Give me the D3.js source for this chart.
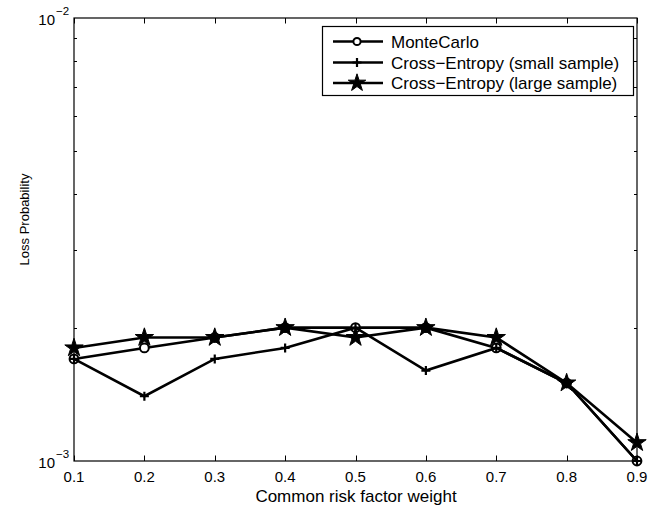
<!DOCTYPE html>
<html><head><meta charset="utf-8">
<script src="https://cdn.jsdelivr.net/npm/d3@7"></script>
<style>body{margin:0;background:#fff}svg{display:block}text{font-family:"Liberation Sans",Arial,Helvetica,sans-serif;fill:#000}</style>
</head><body>
<svg id="chart" width="652" height="512"></svg>
<script>
const xValues = [0.1, 0.2, 0.3, 0.4, 0.5, 0.6, 0.7, 0.8, 0.9];
const monteCarlo = [1.7e-3, 1.8e-3, 1.9e-3, 2.0e-3, 2.0e-3, 2.0e-3, 1.8e-3, 1.5e-3, 1.0e-3];
const ceSmall = [1.7e-3, 1.4e-3, 1.7e-3, 1.8e-3, 2.0e-3, 1.6e-3, 1.8e-3, 1.5e-3, 1.0e-3];
const ceLarge = [1.8e-3, 1.9e-3, 1.9e-3, 2.0e-3, 1.9e-3, 2.0e-3, 1.9e-3, 1.5e-3, 1.1e-3];
const seriesNames = ["MonteCarlo", "Cross\u2212Entropy (small sample)", "Cross\u2212Entropy (large sample)"];
const xTickLabels = ["0.1","0.2","0.3","0.4","0.5","0.6","0.7","0.8","0.9"];
const yDomain = [1e-3, 1e-2];
const xLabel = "Common risk factor weight";
const yLabel = "Loss Probability";

const svg = d3.select("#chart");
const L = 74, T = 18, R = 637, B = 461;
const x = d3.scaleLinear().domain([0.1, 0.9]).range([L, R]);
const y = d3.scaleLog().domain(yDomain).range([B, T]);

const g = svg.append("g");
g.append("rect").attr("x", L).attr("y", T).attr("width", R - L).attr("height", B - T)
  .attr("fill", "none").attr("stroke", "#000").attr("stroke-width", 1.2);

const majorLen = 5.5, minorLen = 3;
xValues.forEach((v, i) => {
  const px = Math.round(x(v)) + 0.5;
  g.append("line").attr("x1", px).attr("x2", px).attr("y1", B).attr("y2", B - majorLen).attr("stroke", "#000");
  g.append("line").attr("x1", px).attr("x2", px).attr("y1", T).attr("y2", T + majorLen).attr("stroke", "#000");
  g.append("text").attr("x", x(v)).attr("y", 482).attr("text-anchor", "middle").attr("font-size", 15).text(xTickLabels[i]);
});
const yTicks = [];
for (let k = 2; k <= 9; k++) yTicks.push(k * 1e-3);
yTicks.forEach(v => {
  const py = Math.round(y(v)) + 0.5;
  g.append("line").attr("x1", L).attr("x2", L + minorLen).attr("y1", py).attr("y2", py).attr("stroke", "#000");
  g.append("line").attr("x1", R).attr("x2", R - minorLen).attr("y1", py).attr("y2", py).attr("stroke", "#000");
});
[[1e-2, "\u22122"], [1e-3, "\u22123"]].forEach(([v, e]) => {
  g.append("text").attr("x", 55).attr("y", y(v) + 7).attr("text-anchor", "end").attr("font-size", 15).text("10");
  g.append("text").attr("x", 56).attr("y", y(v) - 3).attr("font-size", 11.5).text(e);
});

g.append("text").attr("x", (L + R) / 2 + 0.5).attr("y", 502).attr("text-anchor", "middle").attr("font-size", 17).text(xLabel);
g.append("text").attr("transform", `translate(29,${(T + B) / 2 - 20}) rotate(-90)`).attr("text-anchor", "middle").attr("font-size", 13).text(yLabel);

const line = d3.line().x((d, i) => x(xValues[i])).y(d => y(d));
const star = d3.symbol().type(d3.symbolStar).size(105);
const starSmall = d3.symbol().type(d3.symbolStar).size(95);
const plusPath = "M-4.5,0H4.5M0,-4.5V4.5";

function drawMarker(sel, type, cx, cy, legend) {
  if (type === "circle") {
    sel.append("circle").attr("cx", cx).attr("cy", cy).attr("r", legend ? 3.6 : 4.4).attr("fill", "#fff").attr("stroke", "#000").attr("stroke-width", 2);
  } else if (type === "plus") {
    sel.append("path").attr("d", plusPath).attr("transform", `translate(${cx},${cy})`).attr("stroke", "#000").attr("stroke-width", 2.2).attr("fill", "none");
  } else {
    sel.append("path").attr("d", legend ? starSmall() : star()).attr("transform", `translate(${cx},${cy})`).attr("fill", "#000").attr("stroke", "#000").attr("stroke-width", 1);
  }
}

const series = [[monteCarlo, "circle"], [ceSmall, "plus"], [ceLarge, "star"]];
series.forEach(([vals, type]) => {
  const sg = svg.append("g");
  sg.append("path").datum(vals).attr("d", line).attr("fill", "none").attr("stroke", "#000").attr("stroke-width", 2.6).attr("stroke-linejoin", "miter");
  vals.forEach((v, i) => drawMarker(sg, type, x(xValues[i]), y(v), false));
});

const lg = svg.append("g");
lg.append("rect").attr("x", 322.5).attr("y", 26.5).attr("width", 311).attr("height", 69).attr("fill", "#fff").attr("stroke", "#000").attr("stroke-width", 1.2);
const legY = [41.5, 62.5, 83];
series.forEach(([vals, type], i) => {
  lg.append("line").attr("x1", 333).attr("x2", 383).attr("y1", legY[i]).attr("y2", legY[i]).attr("stroke", "#000").attr("stroke-width", 2.6);
  drawMarker(lg, type, 357, legY[i], true);
  lg.append("text").attr("x", 391).attr("y", legY[i] + 6).attr("font-size", 17).text(seriesNames[i]);
});
</script>
</body></html>
